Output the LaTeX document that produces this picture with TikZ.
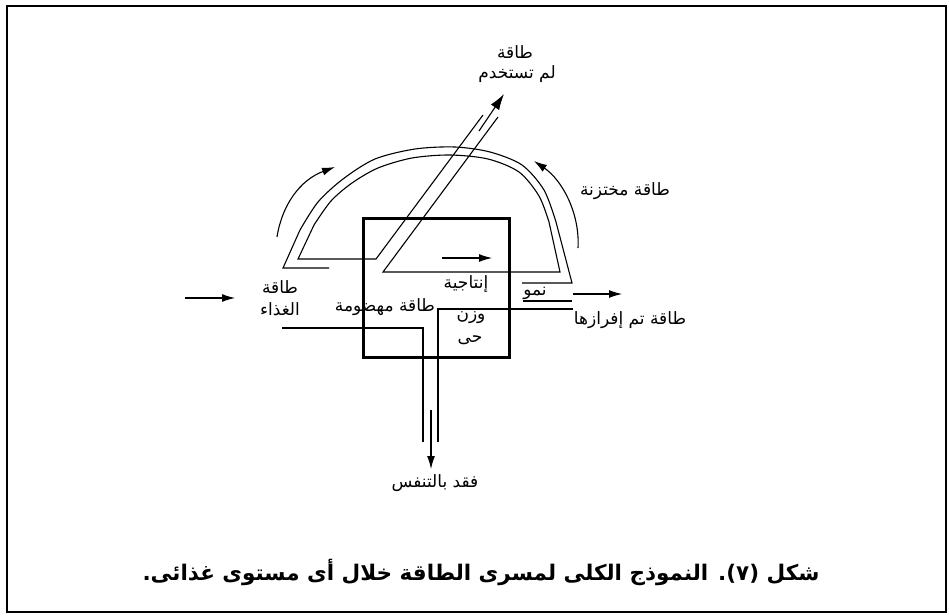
\documentclass[tikz,border=0pt]{standalone}
\usepackage{fontspec}
\usetikzlibrary{arrows.meta}
\TeXXeTstate=1
\newfontfamily\arabicfont[Script=Arabic]{DejaVu Sans}
\newcommand{\artext}[1]{\beginR #1\endR}
\begin{document}
\begin{tikzpicture}[x=1pt,y=-1pt,
  thinline/.style={line width=1.1pt, line join=miter},
  arr/.style={line width=1.1pt,-{Latex[length=13pt,width=8pt]}},
  bigarr/.style={line width=1.1pt,-{Latex[length=16pt,width=10pt]}},
  lbl/.style={inner sep=0pt,font=\arabicfont\fontsize{17}{19}\selectfont},
  captionstyle/.style={inner sep=0pt,font=\arabicfont\bfseries\fontsize{21.5}{24}\selectfont}]
\useasboundingbox (0,0) rectangle (949,615);
\draw[line width=2.4pt] (7,6) rectangle (946,612);

% main box
\node[draw, line width=3pt, minimum width=146pt, minimum height=139pt, inner sep=0pt] (box) at (436,287.5) {};

% outer band line
\draw[thinline] (329,268) -- (283,268) -- (300,230)
  -- plot[smooth] coordinates {(300,230) (318,202) (343,179) (375,159) (415,149) (455,147) (490,152) (522,165) (544,190) (556,222)}
  -- (572,283) -- (522,283);
% inner band line with diagonal
\draw[thinline] (483,115) -- (376,259) -- (298,259) -- (314,225)
  -- plot[smooth] coordinates {(314,225) (331,201) (352,183) (378,168) (412,158) (450,155) (488,159) (519,172) (539,196) (549,222)}
  -- (560,272) -- (383,272) -- (498,117);

% top arrow
\coordinate (topS) at (479,131);
\node[lbl] (top1) at (515,52) {\artext{طاقة}};
\node[lbl] (top2) at (517,74) {\artext{لم تستخدم}};
\draw[bigarr] (topS) -- (504,94);

% curved arrows
\coordinate (lcS) at (277,237);
\coordinate (lcE) at (335,167);
\draw[arr] (lcS) .. controls (282,205) and (300,180) .. (lcE);
\coordinate (rcS) at (578,248);
\coordinate (rcE) at (534,161);
\draw[arr] (rcS) .. controls (580,213) and (562,180) .. (rcE);

% arrows
\coordinate (foodA) at (185,298);
\coordinate (foodB) at (235,298);
\draw[arr] (foodA) -- (foodB);
\coordinate (inA) at (442,258);
\coordinate (inB) at (492,258);
\draw[arr] (inA) -- (inB);
\coordinate (exA) at (573,294);
\coordinate (exB) at (622,294);
\draw[arr] (exA) -- (exB);

% lines near growth label
\draw[thinline] (523,301) -- (572,301);
\draw[thinline] (573,309) -- (438,309) -- (438,442);
\draw[thinline] (282,328) -- (423,328) -- (423,442);
\coordinate (resA) at (431,410);
\coordinate (resB) at (431,469);
\draw[arr] (resA) -- (resB);

% labels
\node[lbl] (stored) at (625,191) {\artext{طاقة مختزنة}};
\node[lbl] (food1) at (280,287) {\artext{طاقة}};
\node[lbl] (food2) at (280,309) {\artext{الغذاء}};
\node[lbl] (dig) at (385,307) {\artext{طاقة مهضومة}};
\node[lbl] (prod) at (466,284) {\artext{إنتاجية}};
\node[lbl] (w1) at (471,318) {\artext{وزن}};
\node[lbl] (w2) at (470,340) {\artext{حى}};
\node[lbl] (grow) at (535,293) {\artext{نمو}};
\node[lbl] (excr) at (630,320) {\artext{طاقة تم إفرازها}};
\node[lbl] (resp) at (435,483) {\artext{فقد بالتنفس}};
\node[captionstyle] (caption) at (481,572) {\artext{شكل (٧). النموذج الكلى لمسرى الطاقة خلال أى مستوى غذائى.}};
\end{tikzpicture}
\end{document}
